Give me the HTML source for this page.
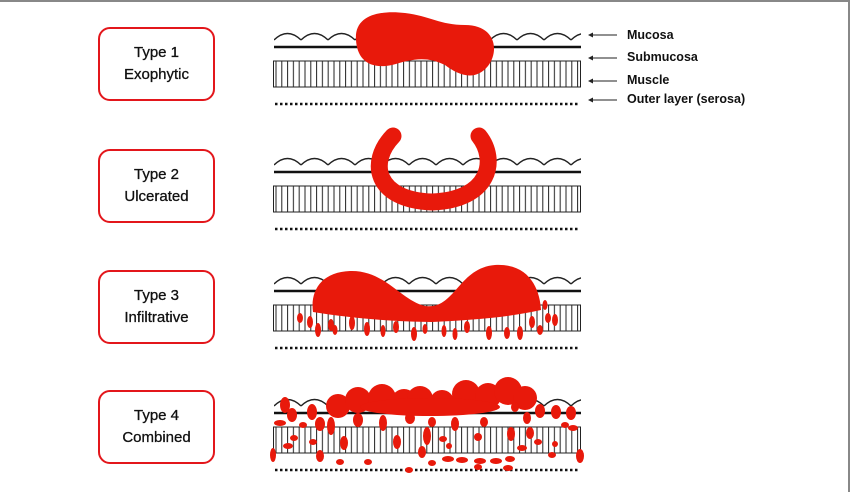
<!DOCTYPE html>
<html><head><meta charset="utf-8"><style>
html,body{margin:0;padding:0;background:#fff}
.wrap{position:relative;width:850px;height:492px;overflow:hidden;font-family:"Liberation Sans",sans-serif}
.box{position:absolute;left:98px;width:113px;height:70px;border:2.5px solid #e3161b;border-radius:12px;text-align:center;font-size:15px;line-height:22px;color:#111;display:flex;flex-direction:column;justify-content:center;-webkit-text-stroke:0.3px #111}
.lbl{position:absolute;left:627px;font-size:12.5px;font-weight:bold;color:#111}
</style></head><body><div class="wrap">
<div style="position:absolute;left:0;top:0;width:850px;height:2px;background:#888"></div>
<div style="position:absolute;right:0;top:0;width:2px;height:492px;background:#888"></div>
<div class="box" style="top:27px">Type 1<br>Exophytic</div>
<div class="box" style="top:149px">Type 2<br>Ulcerated</div>
<div class="box" style="top:270px">Type 3<br>Infiltrative</div>
<div class="box" style="top:390px">Type 4<br>Combined</div>
<div class="lbl" style="top:28px">Mucosa</div>
<div class="lbl" style="top:50px">Submucosa</div>
<div class="lbl" style="top:73px">Muscle</div>
<div class="lbl" style="top:92px">Outer layer (serosa)</div>
<svg width="850" height="492" style="position:absolute;left:0;top:0">
<defs>
<pattern id="st" x="273" y="0" width="5.8" height="10" patternUnits="userSpaceOnUse"><line x1="3" y1="0" x2="3" y2="10" stroke="#222" stroke-width="1"/></pattern>
<pattern id="sc" x="274" y="0" width="27" height="12" patternUnits="userSpaceOnUse"><path d="M0,8 Q13.5,-5 27,8" fill="none" stroke="#222" stroke-width="1.4"/></pattern>
<g id="layers">
<rect x="274" y="0" width="307" height="12" fill="url(#sc)"/>
<line x1="274" y1="15" x2="581" y2="15" stroke="#111" stroke-width="2.5"/>
<rect x="273.5" y="29" width="307" height="26" fill="url(#st)" stroke="#222" stroke-width="1"/>
<line x1="275" y1="72" x2="579" y2="72" stroke="#111" stroke-width="2.5" stroke-dasharray="2.5,2.5"/>
</g>
</defs>
<g fill="none" stroke="#222" stroke-width="1">
<line x1="617" y1="35" x2="590" y2="35"/><line x1="617" y1="58" x2="590" y2="58"/><line x1="617" y1="81" x2="590" y2="81"/><line x1="617" y1="100" x2="590" y2="100"/>
</g>
<g fill="#222"><path d="M588,35 l5,-2.5 v5z"/><path d="M588,58 l5,-2.5 v5z"/><path d="M588,81 l5,-2.5 v5z"/><path d="M588,100 l5,-2.5 v5z"/></g>
<use href="#layers" y="32"/>
<use href="#layers" y="157"/>
<use href="#layers" y="276"/>
<use href="#layers" y="398"/>
<g fill="#e8190b">
<path d="M356,40 C354,15 380,10 405,13 C430,16 440,25 465,25 C495,25 500,50 488,66 C475,82 458,75 445,65 C425,55 410,60 392,65 C368,70 357,58 356,40Z"/>
<path d="M393,136 C368,162 375,200 432,202 C490,200 498,160 479,136" fill="none" stroke="#e8190b" stroke-width="17" stroke-linecap="round"/>
<path d="M313,312 C310,290 322,272 350,271 C385,270 400,300 425,306 C455,310 458,268 495,265 C530,263 540,290 541,310 C505,318 470,320 432,322 C395,322 350,318 313,312Z"/>
<ellipse cx="300" cy="318" rx="3" ry="5"/><ellipse cx="310" cy="322" rx="3" ry="6"/><ellipse cx="318" cy="330" rx="3" ry="7"/><ellipse cx="331" cy="325" rx="3" ry="6"/><ellipse cx="352" cy="323" rx="3" ry="7"/><ellipse cx="335" cy="330" rx="2.5" ry="5"/><ellipse cx="367" cy="329" rx="3" ry="7"/><ellipse cx="383" cy="331" rx="2.5" ry="6"/><ellipse cx="396" cy="327" rx="3" ry="6"/><ellipse cx="414" cy="334" rx="3" ry="7"/><ellipse cx="425" cy="329" rx="2.5" ry="5"/><ellipse cx="444" cy="331" rx="2.5" ry="6"/><ellipse cx="455" cy="334" rx="2.5" ry="6"/><ellipse cx="467" cy="327" rx="3" ry="6"/><ellipse cx="489" cy="333" rx="3" ry="7"/><ellipse cx="507" cy="333" rx="3" ry="6"/><ellipse cx="520" cy="333" rx="3" ry="7"/><ellipse cx="532" cy="322" rx="3" ry="6"/><ellipse cx="540" cy="330" rx="3" ry="5"/><ellipse cx="548" cy="318" rx="3" ry="5"/><ellipse cx="555" cy="320" rx="3" ry="6"/><ellipse cx="545" cy="305" rx="2.5" ry="5"/>
<circle cx="338" cy="406" r="12"/><circle cx="358" cy="400" r="13"/><circle cx="382" cy="398" r="14"/><circle cx="404" cy="402" r="13"/><circle cx="420" cy="399" r="13"/><circle cx="442" cy="402" r="12"/><circle cx="466" cy="394" r="14"/><circle cx="488" cy="396" r="13"/><circle cx="508" cy="391" r="14"/><circle cx="525" cy="398" r="12"/><ellipse cx="430" cy="407" rx="70" ry="9"/>
<ellipse cx="285" cy="405" rx="5" ry="8"/><ellipse cx="292" cy="415" rx="5" ry="7"/><ellipse cx="312" cy="412" rx="5" ry="8"/><ellipse cx="320" cy="424" rx="5" ry="7"/><ellipse cx="331" cy="426" rx="4" ry="9"/><ellipse cx="280" cy="423" rx="6" ry="3"/><ellipse cx="303" cy="425" rx="4" ry="3"/><ellipse cx="358" cy="420" rx="5" ry="7"/><ellipse cx="383" cy="423" rx="4" ry="8"/><ellipse cx="410" cy="418" rx="5" ry="6"/><ellipse cx="432" cy="422" rx="4" ry="5"/><ellipse cx="455" cy="424" rx="4" ry="7"/><ellipse cx="484" cy="422" rx="4" ry="5"/><ellipse cx="515" cy="407" rx="4" ry="5"/><ellipse cx="527" cy="418" rx="4" ry="6"/><ellipse cx="540" cy="411" rx="5" ry="7"/><ellipse cx="556" cy="412" rx="5" ry="7"/><ellipse cx="571" cy="413" rx="5" ry="7"/><ellipse cx="565" cy="425" rx="4" ry="3"/><ellipse cx="573" cy="428" rx="5" ry="3"/><ellipse cx="294" cy="438" rx="4" ry="3"/><ellipse cx="288" cy="446" rx="5" ry="3"/><ellipse cx="313" cy="442" rx="4" ry="3"/><ellipse cx="344" cy="443" rx="4" ry="7"/><ellipse cx="397" cy="442" rx="4" ry="7"/><ellipse cx="427" cy="436" rx="4" ry="9"/><ellipse cx="422" cy="452" rx="4" ry="6"/><ellipse cx="443" cy="439" rx="4" ry="3"/><ellipse cx="449" cy="446" rx="3" ry="3"/><ellipse cx="478" cy="437" rx="4" ry="4"/><ellipse cx="511" cy="434" rx="4" ry="7"/><ellipse cx="530" cy="433" rx="4" ry="6"/><ellipse cx="538" cy="442" rx="4" ry="3"/><ellipse cx="555" cy="444" rx="3" ry="3"/><ellipse cx="273" cy="455" rx="3" ry="7"/><ellipse cx="320" cy="456" rx="4" ry="6"/><ellipse cx="340" cy="462" rx="4" ry="3"/><ellipse cx="368" cy="462" rx="4" ry="3"/><ellipse cx="432" cy="463" rx="4" ry="3"/><ellipse cx="448" cy="459" rx="6" ry="3"/><ellipse cx="462" cy="460" rx="6" ry="3"/><ellipse cx="480" cy="461" rx="6" ry="3"/><ellipse cx="496" cy="461" rx="6" ry="3"/><ellipse cx="510" cy="459" rx="5" ry="3"/><ellipse cx="508" cy="468" rx="5" ry="3"/><ellipse cx="478" cy="467" rx="4" ry="3"/><ellipse cx="409" cy="470" rx="4" ry="3"/><ellipse cx="522" cy="448" rx="5" ry="3"/><ellipse cx="580" cy="456" rx="4" ry="7"/><ellipse cx="552" cy="455" rx="4" ry="3"/>
</g>
</svg>
</div></body></html>
